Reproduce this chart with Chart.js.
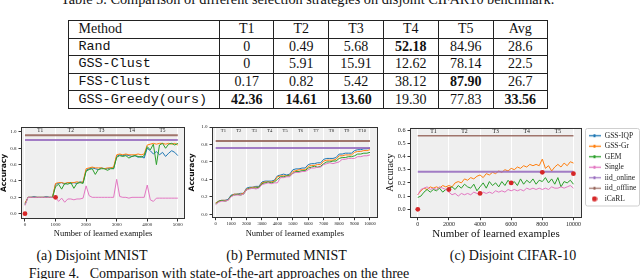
<!DOCTYPE html>
<html>
<head>
<meta charset="utf-8">
<script src="https://cdn.jsdelivr.net/npm/chart.js@4.4.1/dist/chart.umd.min.js"></script>
<style>
  html, body { margin: 0; padding: 0; background: #fff; }
  body { width: 640px; height: 279px; overflow: hidden; position: relative; font-family: "Liberation Serif", "Times New Roman", serif; color: #111; }
  .txt { position: absolute; white-space: nowrap; }
  #tblCap { left: 61px; top: -8.3px; font-size: 14.3px; line-height: 14px; }
  #tbl { position: absolute; left: 67.5px; top: 20px; border-collapse: collapse; table-layout: fixed; width: 479.5px; font-size: 14px; }
  #tbl td { border: 1px solid #222; padding: 0; height: 16.6px; line-height: 14px; text-align: center; vertical-align: middle; }
  #tbl td.m { text-align: left; padding-left: 10px; }
  #tbl td.mono { font-family: "Liberation Mono", monospace; font-size: 13.4px; }
  .box { position: absolute; }
  .sub { position: absolute; width: 200px; text-align: center; font-size: 14px; line-height: 16px; top: 248px; white-space: nowrap; }
  #figCap { left: 28.7px; top: 266px; font-size: 14px; line-height: 16px; }
</style>
</head>
<body>
<div class="txt" id="tblCap">Table 5. Comparison of different selection strategies on disjoint CIFAR10 benchmark.</div>
<table id="tbl"></table>

<div class="box" style="left:0px;top:122px;width:200px;height:117px"><canvas id="chartA"></canvas></div>
<div class="box" style="left:188px;top:122px;width:200px;height:117px"><canvas id="chartB"></canvas></div>
<div class="box" style="left:384px;top:122px;width:256px;height:119px"><canvas id="chartC"></canvas></div>

<div class="sub" style="left:-8px">(a) Disjoint MNIST</div>
<div class="sub" style="left:186.5px">(b) Permuted MNIST</div>
<div class="sub" style="left:413px">(c) Disjoint CIFAR-10</div>
<div class="txt" id="figCap">Figure 4.&nbsp;&nbsp;&nbsp;Comparison with state-of-the-art approaches on the three</div>

<script>
// ---- table data ----
const tableCols = ['Method', 'T1', 'T2', 'T3', 'T4', 'T5', 'Avg'];
const tableColW = [151.4, 54.6, 54.5, 54.9, 54.9, 54.9, 54.3];
const tableMethods = ['Rand', 'GSS-Clust', 'FSS-Clust', 'GSS-Greedy(ours)'];
const rowRand = ['0', '0.49', '5.68', '52.18', '84.96', '28.6'];
const rowGssClust = ['0', '5.91', '15.91', '12.62', '78.14', '22.5'];
const rowFssClust = ['0.17', '0.82', '5.42', '38.12', '87.90', '26.7'];
const rowGssGreedy = ['42.36', '14.61', '13.60', '19.30', '77.83', '33.56'];
const boldCells = ['0-3', '2-4', '3-0', '3-1', '3-2', '3-5'];

// ---- chart data ----
const legendNames = ['GSS-IQP', 'GSS-Gr', 'GEM', 'Single', 'iid_online', 'iid_offline', 'iCaRL'];
const iidOnline = [0.90, 0.76, 0.285];
const iidOffline = [0.96, 0.84, 0.557];

// (a) Disjoint MNIST, one sample every 100 examples
const tasksA = ['T1', 'T2', 'T3', 'T4', 'T5'];
const xTicksA = [0, 1000, 2000, 3000, 4000, 5000];
const yTicksA = [0, 0.2, 0.4, 0.6, 0.8, 1.0];
const stepA = 100;
const gssIqpA = [0.12, 0.20, 0.20, 0.21, 0.20, 0.20, 0.20, 0.21, 0.20, 0.20,
  0.36, 0.37, 0.38, 0.36, 0.38, 0.37, 0.38, 0.37, 0.39, 0.38,
  0.53, 0.55, 0.56, 0.55, 0.54, 0.56, 0.55, 0.55, 0.56, 0.55,
  0.70, 0.72, 0.71, 0.72, 0.71, 0.70, 0.71, 0.69, 0.70, 0.68,
  0.80, 0.77, 0.73, 0.76, 0.72, 0.75, 0.70, 0.74, 0.77, 0.75, 0.71];
const gssGrA = [0.13, 0.20, 0.20, 0.20, 0.20, 0.20, 0.20, 0.20, 0.20, 0.20,
  0.37, 0.38, 0.38, 0.37, 0.38, 0.38, 0.38, 0.39, 0.38, 0.39,
  0.55, 0.56, 0.57, 0.56, 0.56, 0.56, 0.55, 0.56, 0.56, 0.57,
  0.72, 0.73, 0.72, 0.73, 0.72, 0.72, 0.72, 0.73, 0.72, 0.73,
  0.84, 0.85, 0.86, 0.85, 0.86, 0.86, 0.85, 0.86, 0.85, 0.86, 0.84];
const gemA = [0.11, 0.20, 0.20, 0.20, 0.20, 0.20, 0.20, 0.20, 0.20, 0.20,
  0.33, 0.36, 0.30, 0.37, 0.36, 0.38, 0.31, 0.37, 0.38, 0.37,
  0.52, 0.54, 0.55, 0.48, 0.54, 0.55, 0.55, 0.53, 0.55, 0.55,
  0.69, 0.71, 0.70, 0.71, 0.68, 0.70, 0.71, 0.70, 0.69, 0.71,
  0.82, 0.78, 0.85, 0.60, 0.84, 0.86, 0.80, 0.85, 0.86, 0.84, 0.86];
const singleA = [0.10, 0.20, 0.20, 0.20, 0.20, 0.20, 0.20, 0.20, 0.20, 0.20,
  0.20, 0.15, 0.19, 0.14, 0.18, 0.18, 0.17, 0.18, 0.18, 0.19,
  0.34, 0.22, 0.20, 0.20, 0.20, 0.20, 0.20, 0.20, 0.20, 0.20,
  0.42, 0.21, 0.20, 0.20, 0.19, 0.20, 0.20, 0.20, 0.20, 0.20,
  0.35, 0.17, 0.15, 0.19, 0.19, 0.19, 0.19, 0.19, 0.19, 0.19, 0.19];
const icarlXA = [0, 1000];
const icarlA = [0.0, 0.20];

// (b) Permuted MNIST, one sample every 200 examples
const tasksB = ['T1', 'T2', 'T3', 'T4', 'T5', 'T6', 'T7', 'T8', 'T9', 'T10'];
const xTicksB = [0, 1000, 2000, 3000, 4000, 5000, 6000, 7000, 8000, 9000, 10000];
const yTicksB = [0, 0.2, 0.4, 0.6, 0.8, 1.0];
const stepB = 200;
const gssIqpB = [0.13, 0.15, 0.16, 0.16, 0.17, 0.22, 0.23, 0.23, 0.24, 0.24,
  0.30, 0.31, 0.31, 0.32, 0.32, 0.37, 0.38, 0.38, 0.38, 0.39,
  0.44, 0.45, 0.46, 0.45, 0.46, 0.51, 0.52, 0.52, 0.53, 0.53,
  0.57, 0.58, 0.58, 0.59, 0.59, 0.63, 0.64, 0.64, 0.64, 0.65,
  0.69, 0.69, 0.70, 0.70, 0.70, 0.73, 0.74, 0.74, 0.75, 0.75, 0.76];
const gssGrB = [0.13, 0.15, 0.16, 0.16, 0.16, 0.21, 0.23, 0.23, 0.23, 0.24,
  0.29, 0.30, 0.31, 0.31, 0.31, 0.36, 0.37, 0.37, 0.37, 0.38,
  0.43, 0.44, 0.44, 0.44, 0.45, 0.49, 0.50, 0.51, 0.51, 0.51,
  0.55, 0.56, 0.56, 0.57, 0.57, 0.61, 0.62, 0.62, 0.62, 0.63,
  0.67, 0.67, 0.68, 0.68, 0.68, 0.71, 0.72, 0.72, 0.73, 0.73, 0.74];
const gemB = [0.12, 0.15, 0.16, 0.15, 0.16, 0.21, 0.22, 0.23, 0.22, 0.23,
  0.28, 0.30, 0.30, 0.30, 0.31, 0.35, 0.36, 0.37, 0.36, 0.37,
  0.40, 0.43, 0.43, 0.44, 0.44, 0.47, 0.49, 0.49, 0.50, 0.50,
  0.53, 0.54, 0.55, 0.54, 0.55, 0.58, 0.60, 0.60, 0.61, 0.61,
  0.64, 0.65, 0.65, 0.66, 0.66, 0.67, 0.69, 0.69, 0.70, 0.70, 0.71];
const singleB = [0.11, 0.14, 0.15, 0.15, 0.16, 0.20, 0.22, 0.22, 0.22, 0.23,
  0.28, 0.29, 0.30, 0.29, 0.30, 0.34, 0.35, 0.36, 0.35, 0.36,
  0.36, 0.42, 0.42, 0.43, 0.43, 0.47, 0.48, 0.48, 0.49, 0.49,
  0.51, 0.53, 0.53, 0.54, 0.54, 0.57, 0.58, 0.59, 0.58, 0.59,
  0.60, 0.63, 0.63, 0.64, 0.64, 0.64, 0.66, 0.66, 0.67, 0.67, 0.68];

// (c) Disjoint CIFAR-10, one sample every 200 examples
const tasksC = ['T1', 'T2', 'T3', 'T4', 'T5'];
const xTicksC = [0, 2000, 4000, 6000, 8000, 10000];
const yTicksC = [0, 0.1, 0.2, 0.3, 0.4, 0.5, 0.6];
const stepC = 200;
const gssGrC = [0.11, 0.14, 0.16, 0.15, 0.17, 0.16, 0.17, 0.16, 0.18, 0.17,
  0.18, 0.17, 0.20, 0.21, 0.20, 0.23, 0.22, 0.24, 0.23, 0.25,
  0.26, 0.24, 0.27, 0.26, 0.28, 0.27, 0.29, 0.28, 0.30, 0.29,
  0.31, 0.30, 0.32, 0.31, 0.33, 0.32, 0.34, 0.33, 0.34, 0.33,
  0.38, 0.31, 0.33, 0.29, 0.32, 0.34, 0.32, 0.35, 0.33, 0.36, 0.35];
const gemC = [0.09, 0.10, 0.13, 0.15, 0.13, 0.15, 0.14, 0.16, 0.13, 0.15,
  0.16, 0.17, 0.15, 0.18, 0.16, 0.19, 0.17, 0.16, 0.19, 0.14,
  0.17, 0.20, 0.16, 0.21, 0.18, 0.20, 0.17, 0.21, 0.18, 0.22,
  0.19, 0.21, 0.18, 0.23, 0.19, 0.22, 0.20, 0.23, 0.19, 0.22,
  0.21, 0.24, 0.20, 0.23, 0.19, 0.24, 0.17, 0.21, 0.20, 0.22, 0.19];
const singleC = [0.11, 0.15, 0.16, 0.17, 0.15, 0.16, 0.15, 0.17, 0.16, 0.15,
  0.13, 0.11, 0.12, 0.10, 0.12, 0.11, 0.12, 0.11, 0.13, 0.12,
  0.11, 0.13, 0.12, 0.13, 0.12, 0.14, 0.13, 0.14, 0.13, 0.15,
  0.14, 0.15, 0.14, 0.15, 0.14, 0.16, 0.15, 0.16, 0.15, 0.16,
  0.15, 0.16, 0.15, 0.17, 0.16, 0.16, 0.17, 0.16, 0.17, 0.18, 0.16];
const icarlXC = [0, 2000, 4000, 6000, 8000, 10000];
const icarlC = [0.0, 0.15, 0.12, 0.20, 0.28, 0.27];

// ---- build table ----
(function() {
  const tbl = document.getElementById('tbl');
  const rows = [rowRand, rowGssClust, rowFssClust, rowGssGreedy];
  let html = '<colgroup>' + tableColW.map(w => `<col style="width:${w}px">`).join('') + '</colgroup>';
  html += '<tr>' + tableCols.map((c, i) => `<td class="${i === 0 ? 'm' : ''}">${c}</td>`).join('') + '</tr>';
  rows.forEach((r, ri) => {
    html += `<tr><td class="m mono">${tableMethods[ri]}</td>` +
      r.map((v, ci) => `<td>${boldCells.includes(ri + '-' + ci) ? '<b>' + v + '</b>' : v}</td>`).join('') + '</tr>';
  });
  tbl.innerHTML = html;
})();

// ---- charts ----
Chart.defaults.font.family = '"Liberation Serif", serif';
Chart.defaults.color = '#222';
Chart.defaults.animation = false;

const colors = ['#1f77b4', '#ff7f0e', '#2ca02c', '#e377c2', 'rgba(148,103,189,0.85)', 'rgba(140,86,75,0.8)', '#d62728'];

// grey plot area, frame and task names along the top
const plotFrame = {
  id: 'plotFrame',
  beforeDraw(chart) {
    const {ctx, chartArea: a} = chart;
    ctx.save();
    ctx.fillStyle = '#efefef';
    ctx.fillRect(a.left, a.top, a.width, a.height);
    ctx.restore();
  },
  afterDatasetsDraw(chart, args, opts) {
    const {ctx, chartArea: a, scales: {x}} = chart;
    ctx.save();
    ctx.font = `${opts.size}px "Liberation Serif"`;
    ctx.fillStyle = '#222';
    ctx.textAlign = 'center';
    ctx.textBaseline = 'middle';
    opts.labels.forEach((t, i) => ctx.fillText(t, x.getPixelForValue((i + 0.5) * opts.span), a.top + opts.dy));
    ctx.restore();
  },
  afterDraw(chart) {
    const {ctx, chartArea: a} = chart;
    ctx.save();
    ctx.strokeStyle = '#333';
    ctx.lineWidth = 1;
    ctx.strokeRect(Math.round(a.left) + 0.5, Math.round(a.top) + 0.5, Math.round(a.width) - 1, Math.round(a.height) - 1);
    ctx.restore();
  }
};

// nudge the legend off the frame and draw its box
const legendBox = {
  id: 'legendBox',
  afterLayout(chart) {
    const lg = chart.legend;
    if (lg && lg.options.display) { lg.left += 3; lg.top += 2; }
  },
  afterDraw(chart) {
    const lg = chart.legend;
    if (!lg || !lg.options.display) return;
    const {ctx} = chart;
    const n = lg.legendItems.length;
    const lo = lg.options.labels;
    const h = lo.padding + n * (lo.font.size + lo.padding) + 1;
    ctx.save();
    ctx.strokeStyle = '#cfcfcf';
    ctx.lineWidth = 1;
    ctx.beginPath();
    ctx.roundRect(lg.left + 0.5, lg.top - 0.5, chart.width - lg.left - 1, h, 2);
    ctx.stroke();
    ctx.restore();
  }
};

function legendIcon(color, dot) {
  const c = document.createElement('canvas');
  c.width = dot ? 6 : 12;
  c.height = dot ? 6 : 5;
  const g = c.getContext('2d');
  g.fillStyle = color;
  g.strokeStyle = color;
  if (dot) {
    g.beginPath(); g.arc(3, 3, 2.6, 0, Math.PI * 2); g.fill();
  } else {
    g.lineWidth = 1.3;
    g.beginPath(); g.moveTo(0, 2.5); g.lineTo(12, 2.5); g.stroke();
    g.fillRect(5, 1, 2, 3);
  }
  return c;
}
const legendIcons = colors.map((c, i) => legendIcon(c, i === 6));

const toXY = (vals, step) => vals.map((v, i) => ({x: i * step, y: v}));
const pairXY = (xs, ys) => xs.map((x, i) => ({x: x, y: ys[i]}));

function makePanel(id, p) {
  const series = [p.iqp, p.gr, p.gem, p.single];
  const datasets = series.map((s, i) => ({
    label: legendNames[i], data: s ? toXY(s, p.step) : [],
    borderColor: colors[i], backgroundColor: colors[i], borderWidth: 1, pointRadius: 0, order: 10 - i
  }));
  datasets.push({label: legendNames[4], data: pairXY([0, p.xEnd], [iidOnline[p.k], iidOnline[p.k]]),
    borderColor: colors[4], backgroundColor: colors[4], borderWidth: 2, pointRadius: 0, order: 6});
  datasets.push({label: legendNames[5], data: pairXY([0, p.xEnd], [iidOffline[p.k], iidOffline[p.k]]),
    borderColor: colors[5], backgroundColor: colors[5], borderWidth: p.offW, pointRadius: 0, order: 5});
  datasets.push({label: legendNames[6], data: p.icarl ? pairXY(p.icarlX, p.icarl) : [],
    showLine: false, borderColor: colors[6], backgroundColor: colors[6], pointRadius: 2.4, borderWidth: 0, order: 4});

  return new Chart(document.getElementById(id), {
    type: 'line',
    data: {datasets},
    plugins: [plotFrame, legendBox],
    options: {
      responsive: true,
      maintainAspectRatio: false,
      devicePixelRatio: 1,
      layout: {padding: p.pad},
      events: [],
      scales: {
        x: {
          type: 'linear', min: p.xMin, max: p.xMax,
          afterBuildTicks: s => { s.ticks = p.xTicks.map(v => ({value: v})); },
          afterFit: s => { s.height = p.xH; },
          ticks: {font: {size: p.xTickSize}, padding: 0.5, maxRotation: 0, autoSkip: false, color: '#222',
            callback: v => String(v)},
          grid: {color: '#ffffff', lineWidth: 1, tickColor: '#333', tickLength: 2.5},
          border: {display: false},
          title: {display: true, text: 'Number of learned examples', font: {size: p.xTitleSize}, padding: 0, color: '#111'}
        },
        y: {
          type: 'linear', min: p.yMin, max: p.yMax,
          afterBuildTicks: s => { s.ticks = p.yTicks.map(v => ({value: v})); },
          afterFit: s => { s.width = p.yW; },
          ticks: {font: {size: p.yTickSize}, padding: 2, color: '#222', callback: v => v.toFixed(1)},
          grid: {drawOnChartArea: false, tickColor: '#333', tickLength: 2.5},
          border: {display: false},
          title: {display: true, text: 'Accuracy', font: p.yTitleFont, padding: 0, color: '#111'}
        }
      },
      plugins: {
        tooltip: {enabled: false},
        plotFrame: {labels: p.tasks, span: p.span, size: p.taskSize, dy: 3.5},
        legend: {
          display: !!p.legend, position: 'right', align: 'start', maxWidth: 58,
          labels: {
            font: {size: 7.5}, padding: 3, usePointStyle: true, pointStyleWidth: 13, color: '#222',
            sort: (a, b) => a.datasetIndex - b.datasetIndex,
            generateLabels(chart) {
              const items = Chart.defaults.plugins.legend.labels.generateLabels(chart);
              items.forEach(it => { it.pointStyle = legendIcons[it.datasetIndex]; it.hidden = false; });
              return items;
            }
          }
        }
      }
    }
  });
}

makePanel('chartA', {
  k: 0, step: stepA, xEnd: 5000, iqp: gssIqpA, gr: gssGrA, gem: gemA, single: singleA,
  icarlX: icarlXA, icarl: icarlA, offW: 2,
  xMin: -130, xMax: 5235, yMin: -0.065, yMax: 1.06, xTicks: xTicksA, yTicks: yTicksA,
  pad: {top: 5, right: 15, left: 0, bottom: 0}, xH: 20, yW: 21,
  xTickSize: 5, yTickSize: 5, xTitleSize: 8.5,
  yTitleFont: {family: '"DejaVu Sans", sans-serif', weight: 'bold', size: 7.5},
  tasks: tasksA, span: 1000, taskSize: 5.4
});

makePanel('chartB', {
  k: 1, step: stepB, xEnd: 10000, iqp: gssIqpB, gr: gssGrB, gem: gemB, single: singleB,
  offW: 2,
  xMin: -240, xMax: 10500, yMin: -0.039, yMax: 1.0, xTicks: xTicksB, yTicks: yTicksB,
  pad: {top: 5, right: 10.3, left: 0, bottom: 0}, xH: 21.3, yW: 24,
  xTickSize: 4.6, yTickSize: 5, xTitleSize: 8.5,
  yTitleFont: {family: '"DejaVu Sans", sans-serif', weight: 'bold', size: 7.5},
  tasks: tasksB, span: 1000, taskSize: 4.6
});

makePanel('chartC', {
  k: 2, step: stepC, xEnd: 10000, iqp: null, gr: gssGrC, gem: gemC, single: singleC,
  icarlX: icarlXC, icarl: icarlC, offW: 1.6,
  xMin: -500, xMax: 10550, yMin: -0.0635, yMax: 0.6175, xTicks: xTicksC, yTicks: yTicksC,
  pad: {top: 5, right: 0, left: 0, bottom: 0}, xH: 23.3, yW: 26,
  xTickSize: 6, yTickSize: 6.2, xTitleSize: 11,
  yTitleFont: {family: '"Liberation Serif", serif', size: 10},
  tasks: tasksC, span: 2000, taskSize: 5.8, legend: true
});
</script>
</body>
</html>
